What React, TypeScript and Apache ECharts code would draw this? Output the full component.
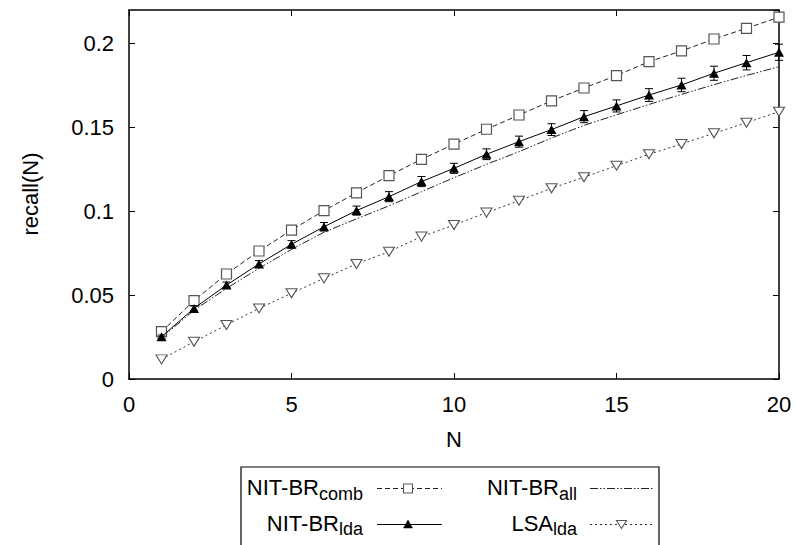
import React, { useEffect, useRef } from "react";
import * as echarts from "echarts";

const nValues = [1, 2, 3, 4, 5, 6, 7, 8, 9, 10, 11, 12, 13, 14, 15, 16, 17, 18, 19, 20];
const combValues = [0.0282, 0.0467, 0.0626, 0.0763, 0.0888, 0.1004, 0.111, 0.1212, 0.131, 0.14, 0.1489, 0.1574, 0.1658, 0.1735, 0.1809, 0.1892, 0.1956, 0.2027, 0.2091, 0.2157];
const ldaValues = [0.0252, 0.0421, 0.056, 0.0686, 0.0803, 0.0908, 0.1004, 0.1087, 0.1177, 0.1256, 0.134, 0.1415, 0.1487, 0.1564, 0.1628, 0.1693, 0.1753, 0.1823, 0.1886, 0.1948];
const ldaErrors = [0.001, 0.0015, 0.0018, 0.002, 0.0022, 0.0025, 0.0027, 0.003, 0.003, 0.003, 0.0032, 0.0033, 0.0035, 0.0036, 0.0036, 0.0038, 0.004, 0.0042, 0.0043, 0.0048];
const allValues = [0.0245, 0.041, 0.054, 0.066, 0.0773, 0.0875, 0.0955, 0.1032, 0.1117, 0.12, 0.128, 0.1355, 0.1437, 0.1512, 0.1575, 0.1637, 0.1697, 0.1755, 0.181, 0.1862];
const lsaValues = [0.0117, 0.0222, 0.0322, 0.0421, 0.0511, 0.06, 0.0686, 0.0759, 0.0849, 0.0918, 0.0992, 0.1063, 0.1137, 0.1203, 0.1272, 0.134, 0.1401, 0.1465, 0.1528, 0.1594];
const xTicks = [0, 5, 10, 15, 20];
const yTicks = [0, 0.05, 0.1, 0.15, 0.2];

const FONT = "'Liberation Sans', Arial, Helvetica, sans-serif";

const DASH_COMB = [5, 3];
const DASH_ALL = [8, 2, 1.5, 2, 1.5, 2];
const DASH_LSA = [2, 3];

function legendText(main: string, sub: string, x: number, y: number) {
  return {
    type: "text",
    x,
    y,
    style: {
      text: `{m|${main}}{s|${sub}}`,
      align: "right",
      textAlign: "right",
      verticalAlign: "middle",
      textVerticalAlign: "middle",
      fill: "#000",
      rich: {
        m: { fontSize: 22, lineHeight: 30, fontFamily: FONT, fill: "#000", color: "#000" },
        s: { fontSize: 18, lineHeight: 17, fontFamily: FONT, verticalAlign: "bottom", fill: "#000", color: "#000" },
      },
    },
  };
}

export default function App() {
  const ref = useRef<HTMLDivElement>(null);
  useEffect(() => {
    if (!ref.current) return;
    const chart = echarts.init(ref.current, undefined, { renderer: "svg" });
    const pair = (arr: number[]) => nValues.map((n, i) => [n, arr[i]]);
    const axisCommon = {
      type: "value" as const,
      splitLine: { show: false },
      axisLine: { show: true, onZero: false, lineStyle: { color: "#000", width: 1.5 } },
      axisTick: { show: true, inside: true, length: 6, lineStyle: { color: "#000", width: 1 } },
    };
    const yFmt = (v: number) => (yTicks.some((t) => Math.abs(t - v) < 1e-9) ? String(+v.toFixed(2)) : "");
    const xFmt = (v: number) => (xTicks.includes(v) ? String(v) : "");

    chart.setOption({
      animation: false,
      backgroundColor: "#fff",
      grid: { left: 129, right: 18, top: 10, bottom: 166, containLabel: false },
      xAxis: [
        {
          ...axisCommon,
          position: "bottom",
          min: 0,
          max: 20,
          interval: 5,
          axisLabel: { show: true, formatter: xFmt, fontSize: 22, fontFamily: FONT, color: "#000", margin: 14 },
        },
        {
          ...axisCommon,
          position: "top",
          min: 0,
          max: 20,
          interval: 5,
          axisLabel: { show: false },
        },
      ],
      yAxis: [
        {
          ...axisCommon,
          position: "left",
          min: 0,
          max: 0.22,
          interval: 0.05,
          axisLabel: { show: true, formatter: yFmt, showMaxLabel: false, fontSize: 22, fontFamily: FONT, color: "#000", margin: 15 },
        },
        {
          ...axisCommon,
          position: "right",
          min: 0,
          max: 0.22,
          interval: 0.05,
          axisLabel: { show: false },
        },
      ],
      series: [
        {
          name: "NIT-BR comb",
          type: "line",
          data: pair(combValues),
          symbol: "rect",
          symbolSize: 10,
          lineStyle: { color: "#222", width: 1, type: DASH_COMB },
          itemStyle: { color: "#fff", borderColor: "#555", borderWidth: 1.2 },
          z: 3,
        },
        {
          name: "NIT-BR all",
          type: "line",
          data: pair(allValues),
          showSymbol: false,
          symbol: "none",
          lineStyle: { color: "#222", width: 1, type: DASH_ALL },
          z: 2,
        },
        {
          name: "LSA lda",
          type: "line",
          data: pair(lsaValues),
          symbol: "triangle",
          symbolRotate: 180,
          symbolSize: [11, 9],
          lineStyle: { color: "#333", width: 1, type: DASH_LSA },
          itemStyle: { color: "#fff", borderColor: "#555", borderWidth: 1.1 },
          z: 3,
        },
        {
          name: "NIT-BR lda",
          type: "line",
          data: pair(ldaValues),
          symbol: "triangle",
          symbolSize: [10, 9],
          lineStyle: { color: "#000", width: 1, type: "solid" },
          itemStyle: { color: "#000" },
          z: 4,
        },
        {
          name: "lda errors",
          type: "custom",
          data: nValues.map((n, i) => [n, ldaValues[i], ldaErrors[i]]),
          clip: false,
          z: 5,
          renderItem: (params: any, api: any) => {
            const x = api.value(0);
            const y = api.value(1);
            const e = api.value(2);
            const lo = api.coord([x, y - e]);
            const hi = api.coord([x, y + e]);
            const w = 4;
            const st = { stroke: "#000", lineWidth: 1 };
            return {
              type: "group",
              children: [
                { type: "line", shape: { x1: lo[0], y1: lo[1], x2: hi[0], y2: hi[1] }, style: st },
                { type: "line", shape: { x1: lo[0] - w, y1: lo[1], x2: lo[0] + w, y2: lo[1] }, style: st },
                { type: "line", shape: { x1: hi[0] - w, y1: hi[1], x2: hi[0] + w, y2: hi[1] }, style: st },
              ],
            };
          },
        },
      ],
      graphic: [
        {
          type: "text",
          x: 30,
          y: 194,
          rotation: Math.PI / 2,
          style: {
            text: "recall(N)",
            fontSize: 22,
            fontFamily: FONT,
            fill: "#000",
            align: "center",
            textAlign: "center",
            verticalAlign: "middle",
            textVerticalAlign: "middle",
          },
        },
        {
          type: "text",
          x: 454,
          y: 439,
          style: {
            text: "N",
            fontSize: 22,
            fontFamily: FONT,
            fill: "#000",
            align: "center",
            textAlign: "center",
            verticalAlign: "middle",
            textVerticalAlign: "middle",
          },
        },
        {
          type: "rect",
          shape: { x: 241, y: 467, width: 418, height: 100 },
          style: { fill: "none", stroke: "#000", lineWidth: 1.2 },
        },
        legendText("NIT-BR", "comb", 363, 487.5),
        legendText("NIT-BR", "lda", 363, 523),
        legendText("NIT-BR", "all", 577, 487.5),
        legendText("LSA", "lda", 577, 523),
        {
          type: "line",
          shape: { x1: 377, y1: 488.5, x2: 442, y2: 488.5 },
          style: { stroke: "#222", lineWidth: 1, lineDash: DASH_COMB },
        },
        {
          type: "rect",
          shape: { x: 403.5, y: 484, width: 9, height: 9 },
          style: { fill: "#fff", stroke: "#555", lineWidth: 1.1 },
        },
        {
          type: "line",
          shape: { x1: 377, y1: 524.5, x2: 442, y2: 524.5 },
          style: { stroke: "#000", lineWidth: 1 },
        },
        {
          type: "polygon",
          shape: { points: [[408, 520], [412.5, 528], [403.5, 528]] },
          style: { fill: "#000", stroke: "#000", lineWidth: 0.5 },
        },
        {
          type: "line",
          shape: { x1: 590, y1: 488.5, x2: 653, y2: 488.5 },
          style: { stroke: "#222", lineWidth: 1, lineDash: DASH_ALL },
        },
        {
          type: "line",
          shape: { x1: 590, y1: 524.5, x2: 653, y2: 524.5 },
          style: { stroke: "#333", lineWidth: 1, lineDash: DASH_LSA },
        },
        {
          type: "polygon",
          shape: { points: [[616.5, 520.5], [626.5, 520.5], [621.5, 528.5]] },
          style: { fill: "#fff", stroke: "#555", lineWidth: 1.1 },
        },
      ],
    });
    return () => chart.dispose();
  }, []);
  return <div ref={ref} style={{ width: 797, height: 545, position: "absolute", left: 0, top: 0 }} />;
}
